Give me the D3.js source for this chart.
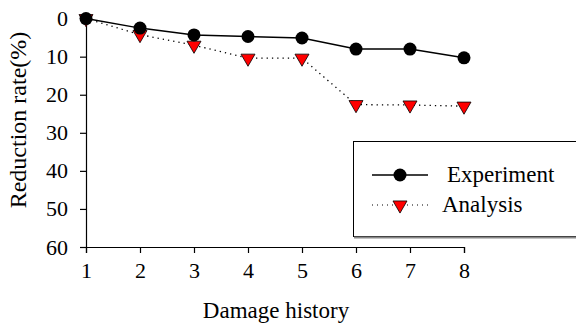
<!DOCTYPE html>
<html>
<head>
<meta charset="utf-8">
<script src="https://cdn.jsdelivr.net/npm/d3@7"></script>
</head>
<body style="margin:0">
<svg id="chart" width="576" height="325"></svg>
<script>
// chart data
const damageHistory = [1, 2, 3, 4, 5, 6, 7, 8];
const experiment = [0, 2.5, 4.3, 4.7, 5.1, 8.0, 8.0, 10.3];
const analysis = [0, 4.2, 7.0, 10.4, 10.4, 22.6, 22.7, 23.0];
const yTicks = [0, 10, 20, 30, 40, 50, 60];
const seriesNames = ['Experiment', 'Analysis'];

const svg = d3.select('#chart');

const xScale = d3.scaleLinear()
  .domain([1, 8])
  .range([86, 464]);

const yScale = d3.scaleLinear()
  .domain([0, 60])
  .range([18.6, 247]);

// axes
svg.append('g')
  .attr('class', 'axis')
  .attr('transform', `translate(0,${yScale(60)})`)
  .call(d3.axisBottom(xScale).tickValues(damageHistory).tickFormat(d3.format('d')).tickSizeOuter(0).tickSize(6).tickPadding(9));

svg.append('g')
  .attr('class', 'axis')
  .attr('transform', `translate(${xScale(1)},0)`)
  .call(d3.axisLeft(yScale).tickValues(yTicks).tickSizeOuter(0).tickSize(6).tickPadding(12));

svg.selectAll('.axis').attr('font-family', null).attr('font-size', null);
svg.selectAll('.axis path, .axis line').attr('stroke', '#000').attr('stroke-width', 1.2);
svg.selectAll('.axis text')
  .attr('fill', '#000')
  .attr('style', 'font-family: Liberation Serif; font-size: 22px');

// axis titles
svg.append('text')
  .attr('x', 276)
  .attr('y', 318)
  .attr('text-anchor', 'middle')
  .attr('style', 'font-family: Liberation Serif; font-size: 23px')
  .text('Damage history');

svg.append('text')
  .attr('transform', 'translate(26,120) rotate(-90)')
  .attr('text-anchor', 'middle')
  .attr('style', 'font-family: Liberation Serif; font-size: 24px')
  .text('Reduction rate(%)');

// lines
const lineGen = d3.line()
  .x((d, i) => xScale(damageHistory[i]))
  .y(d => yScale(d));

svg.append('path')
  .datum(analysis)
  .attr('fill', 'none')
  .attr('stroke', '#000')
  .attr('stroke-width', 1.3)
  .attr('stroke-dasharray', '1.3,4')
  .attr('d', lineGen);

svg.append('path')
  .datum(experiment)
  .attr('fill', 'none')
  .attr('stroke', '#000')
  .attr('stroke-width', 1.5)
  .attr('d', lineGen);

const tri = d3.symbol().type(d3.symbolTriangle).size(85);

svg.selectAll('.tri')
  .data(analysis)
  .join('path')
  .attr('class', 'tri')
  .attr('d', tri)
  .attr('transform', (d, i) => `translate(${xScale(damageHistory[i])},${yScale(d)}) rotate(180)`)
  .attr('fill', '#ff0000')
  .attr('stroke', '#000')
  .attr('stroke-width', 0.8);

svg.selectAll('.dot')
  .data(experiment)
  .join('circle')
  .attr('class', 'dot')
  .attr('cx', (d, i) => xScale(damageHistory[i]))
  .attr('cy', d => yScale(d))
  .attr('r', 6.5)
  .attr('fill', '#000');

// legend
const legend = svg.append('g');
legend.append('rect')
  .attr('x', 353.5)
  .attr('y', 141.5)
  .attr('width', 240)
  .attr('height', 95)
  .attr('fill', '#fff')
  .attr('stroke', '#000')
  .attr('stroke-width', 1);
legend.append('line')
  .attr('x1', 354).attr('x2', 576)
  .attr('y1', 237.5).attr('y2', 237.5)
  .attr('stroke', '#888').attr('stroke-width', 2);

legend.append('line')
  .attr('x1', 372).attr('x2', 428)
  .attr('y1', 175).attr('y2', 175)
  .attr('stroke', '#000').attr('stroke-width', 1.5);
legend.append('circle')
  .attr('cx', 400).attr('cy', 175).attr('r', 6.5).attr('fill', '#000');
legend.append('text')
  .attr('x', 447).attr('y', 182)
  .attr('style', 'font-family: Liberation Serif; font-size: 23px')
  .text(seriesNames[0]);

legend.append('line')
  .attr('x1', 372).attr('x2', 428)
  .attr('y1', 205).attr('y2', 205)
  .attr('stroke', '#000').attr('stroke-width', 1.2)
  .attr('stroke-dasharray', '1,4');
legend.append('path')
  .attr('d', tri)
  .attr('transform', 'translate(400,205) rotate(180)')
  .attr('fill', '#ff0000')
  .attr('stroke', '#000')
  .attr('stroke-width', 0.8);
legend.append('text')
  .attr('x', 442).attr('y', 212)
  .attr('style', 'font-family: Liberation Serif; font-size: 23px')
  .text(seriesNames[1]);
</script>
</body>
</html>
